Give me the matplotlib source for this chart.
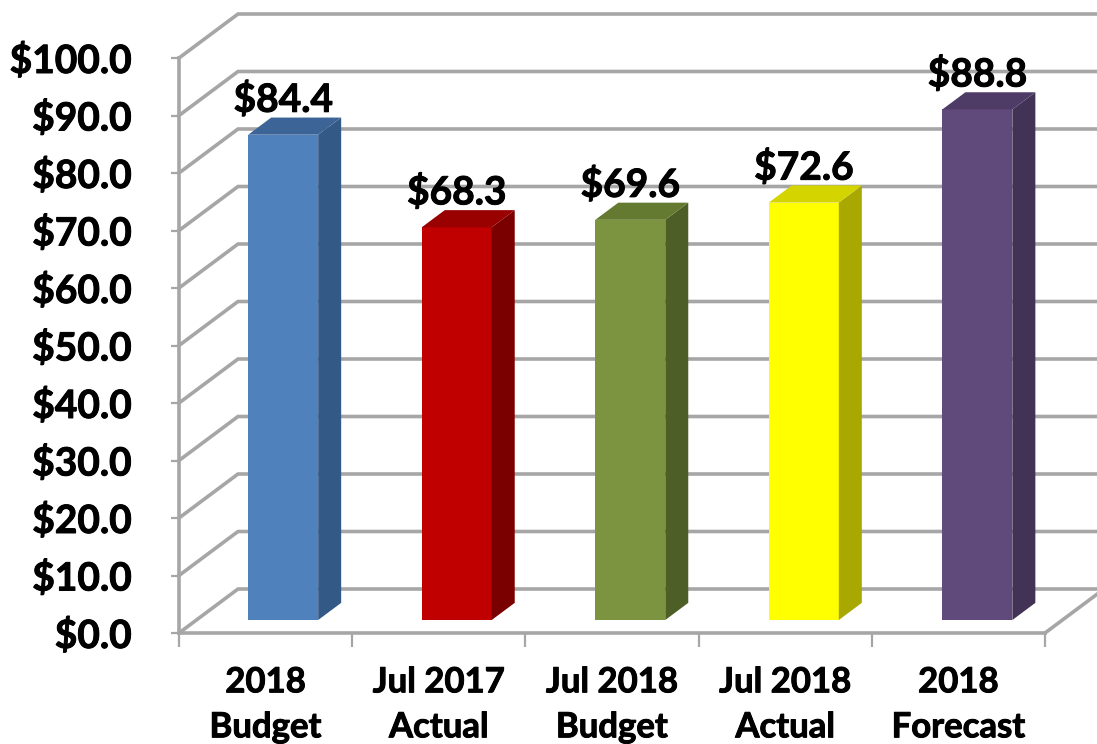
import matplotlib
matplotlib.use('Agg')
import matplotlib.pyplot as plt
import matplotlib.patheffects as pe

plt.rcParams['font.family'] = ['Lato', 'DejaVu Sans']
plt.rcParams['font.weight'] = 'bold'

labels = ['2018\nBudget', 'Jul 2017\nActual', 'Jul 2018\nBudget', 'Jul 2018\nActual', '2018\nForecast']
values = [84.4, 68.3, 69.6, 72.6, 88.8]
y_ticks = [0, 10, 20, 30, 40, 50, 60, 70, 80, 90, 100]

front_colors = ['#4f81bd', '#c00000', '#7c9440', '#ffff00', '#604a7b']
side_colors = ['#335a87', '#7a0000', '#4d5f27', '#a8a800', '#423256']
top_colors = ['#3c6496', '#990000', '#637a30', '#d4d400', '#4e3b66']

grid_col = '#a6a6a6'
# depth of the fake 3d floor, in data units
depth_x = 59 / 173.2
depth_y = 44 / 5.75
bar_w = 0.404
d0 = 0.295
d1 = 0.685
slot = 1.002
# thicken the glyphs a little, Lato bold is lighter than the original font
heavy = [pe.withStroke(linewidth=0.7, foreground='black')]


def proj(x, y, d):
    return x + d * depth_x, y + d * depth_y


fig = plt.figure(figsize=(10.97, 7.44), dpi=100)
ax = fig.add_axes([179 / 1097, (744 - 633) / 744, 866 / 1097, 575 / 744])
ax.set_xlim(0, 5)
ax.set_ylim(0, 100)

# gridlines: diagonal on the side wall, then along the back wall
for t in y_ticks:
    bx, by = proj(0, t, 1)
    ax.plot([0, bx, 5.4], [t, by, by], color=grid_col, lw=2.6, clip_on=False, zorder=1,
            solid_joinstyle='miter')
# floor edge on the right
ex, ey = proj(5, 0, 1)
ax.plot([5, ex], [0, ey], color=grid_col, lw=2.6, clip_on=False, zorder=1)

for i, v in enumerate(values):
    mid = (i + 0.5) * slot
    left = mid - bar_w / 2
    right = left + bar_w
    # front
    p = [proj(left, 0, d0), proj(right, 0, d0), proj(right, v, d0), proj(left, v, d0)]
    ax.fill(*zip(*p), color=front_colors[i], lw=0, zorder=3, clip_on=False)
    # side
    p = [proj(right, 0, d0), proj(right, 0, d1), proj(right, v, d1), proj(right, v, d0)]
    ax.fill(*zip(*p), color=side_colors[i], lw=0, zorder=3, clip_on=False)
    # top
    p = [proj(left, v, d0), proj(right, v, d0), proj(right, v, d1), proj(left, v, d1)]
    ax.fill(*zip(*p), color=top_colors[i], lw=0, zorder=3, clip_on=False)
    # value label
    tx = proj(mid, v, d0)[0]
    ty = proj(mid, v + 1, d1)[1]
    ax.text(tx, ty, '$%.1f' % v, ha='center', va='baseline', fontsize=28, fontweight='bold',
            color='black', zorder=5, clip_on=False, path_effects=heavy)

for s in ['top', 'right']:
    ax.spines[s].set_visible(False)
for s in ['left', 'bottom']:
    ax.spines[s].set_color(grid_col)
    ax.spines[s].set_linewidth(2.6)
    ax.spines[s].set_zorder(2)

ax.set_yticks(y_ticks)
ax.set_yticklabels(['$%.1f' % t for t in y_ticks], fontsize=28, fontweight='bold', path_effects=heavy)
ax.set_xticks(range(6))
ax.set_xticklabels([])
ax.set_xticks([i + 0.5 for i in range(5)], minor=True)
ax.set_xticklabels(labels, minor=True, fontsize=25, fontweight='bold', linespacing=1.5,
                   path_effects=heavy)
ax.tick_params(axis='y', length=6, width=1.6, color=grid_col, pad=28)
ax.tick_params(axis='x', which='major', length=10, width=1.6, color=grid_col)
ax.tick_params(axis='x', which='minor', length=0, pad=24)

fig.savefig('out.png', dpi=100)
